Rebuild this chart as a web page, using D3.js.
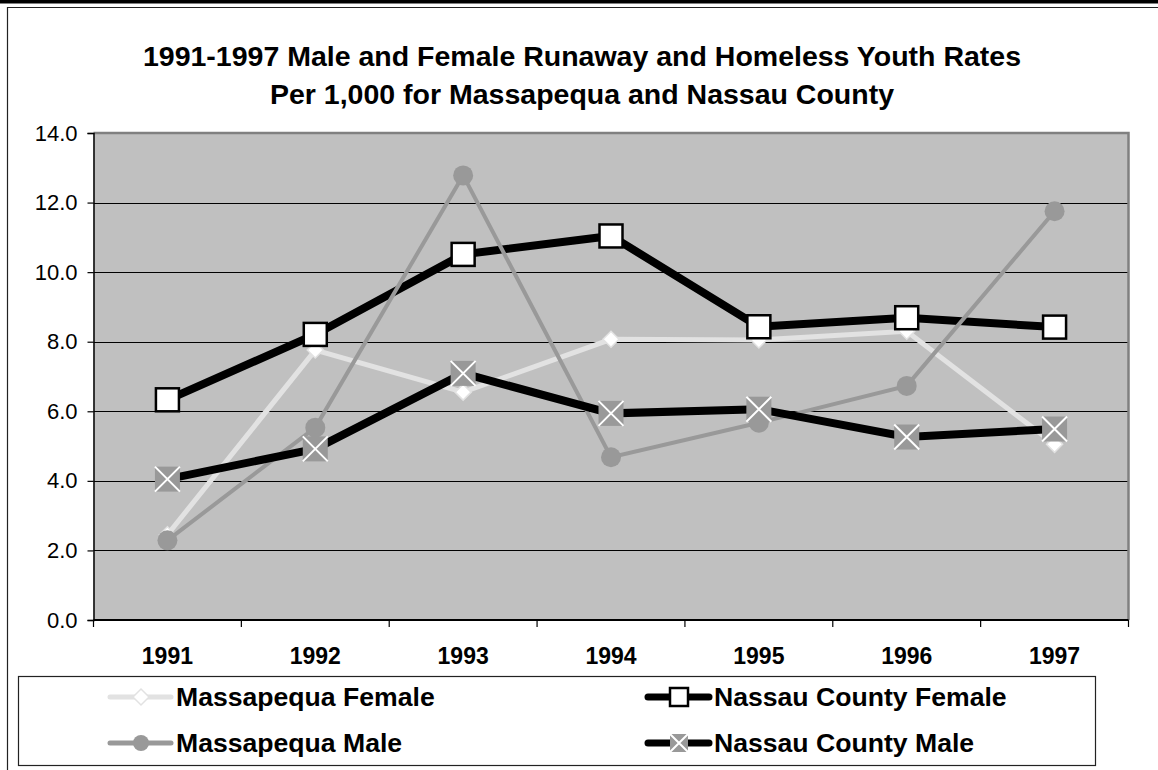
<!DOCTYPE html>
<html>
<head>
<meta charset="utf-8">
<script src="https://cdn.jsdelivr.net/npm/d3@7"></script>
<style>
  html, body { margin: 0; padding: 0; background: #fff; }
  svg { display: block; }
  text { font-family: "Liberation Sans", Arial, sans-serif; fill: #000; }
</style>
</head>
<body>
<svg id="chart" width="1158" height="770"></svg>
<script>
// Rates per 1,000 youth, 1991-1997
const years = ["1991", "1992", "1993", "1994", "1995", "1996", "1997"];
const massapequaFemale = [2.45, 7.76, 6.55, 8.07, 8.05, 8.3, 5.05];
const massapequaMale = [2.29, 5.53, 12.78, 4.68, 5.67, 6.73, 11.75];
const nassauFemale = [6.33, 8.21, 10.51, 11.04, 8.43, 8.69, 8.42];
const nassauMale = [4.05, 4.92, 7.09, 5.94, 6.06, 5.26, 5.49];
const yTicks = [0, 2, 4, 6, 8, 10, 12, 14];
const titleLines = [
  "1991-1997 Male and Female Runaway and Homeless Youth Rates",
  "Per 1,000 for Massapequa and Nassau County"
];

// series in drawing / legend order
const series = [
  { name: "Massapequa Female", values: massapequaFemale, line: "#e2e2e2", width: 5, marker: "diamond" },
  { name: "Nassau County Female", values: nassauFemale, line: "#000", width: 8, marker: "square" },
  { name: "Massapequa Male", values: massapequaMale, line: "#999", width: 4, marker: "circle" },
  { name: "Nassau County Male", values: nassauMale, line: "#000", width: 8, marker: "xsquare" }
];

const svg = d3.select("#chart");
const plot = { left: 93.5, right: 1128.5, top: 133, bottom: 620 };

// outer frame
svg.append("rect").attr("x", 0).attr("y", 0).attr("width", 1158).attr("height", 3.5).attr("fill", "#000");
svg.append("path").attr("d", "M7.5,770 V7.5 H1158").attr("fill", "none").attr("stroke", "#222").attr("stroke-width", 1.2);

// title
svg.append("g").selectAll("text").data(titleLines).join("text")
  .attr("x", 582).attr("y", (d, i) => 66 + i * 38)
  .attr("text-anchor", "middle")
  .style("font-size", "28.5px").style("font-weight", "bold")
  .text(d => d);

const x = d3.scaleBand().domain(years).range([plot.left, plot.right]);
const cx = d => x(d) + x.bandwidth() / 2;
const y = d3.scaleLinear().domain([0, 14]).range([plot.bottom, plot.top]);

// plot background
svg.append("rect")
  .attr("x", plot.left).attr("y", plot.top)
  .attr("width", plot.right - plot.left).attr("height", plot.bottom - plot.top)
  .attr("fill", "#c0c0c0");

// gridlines
svg.append("g").selectAll("line").data(yTicks.filter(v => v > 0 && v < 14)).join("line")
  .attr("x1", plot.left).attr("x2", plot.right)
  .attr("y1", d => Math.round(y(d)) + 0.5).attr("y2", d => Math.round(y(d)) + 0.5)
  .attr("stroke", "#000").attr("stroke-width", 1);

// top and right border
svg.append("path")
  .attr("d", `M${plot.left},${plot.top} H${plot.right} V${plot.bottom}`)
  .attr("fill", "none").attr("stroke", "#808080").attr("stroke-width", 2.5);

// y axis
const yAxis = svg.append("g").attr("transform", `translate(${plot.left},0)`)
  .call(d3.axisLeft(y).tickValues(yTicks).tickFormat(d3.format(".1f")).tickSize(6).tickPadding(10));
yAxis.select(".domain").attr("stroke", "#000").attr("stroke-width", 1.5);
yAxis.selectAll(".tick line").attr("stroke", "#000").attr("stroke-width", 1.2);
yAxis.selectAll("text").style("font-size", "22px").attr("font-family", null).attr("fill", "#000");

// x axis: boundary ticks between categories, labels centered
const xAxis = svg.append("g").attr("transform", `translate(0,${plot.bottom})`);
xAxis.append("line").attr("x1", plot.left).attr("x2", plot.right).attr("stroke", "#000").attr("stroke-width", 2);
xAxis.selectAll("line.tk").data(years.map(d => x(d)).concat([plot.right])).join("line")
  .attr("class", "tk")
  .attr("x1", d => d).attr("x2", d => d).attr("y1", 0).attr("y2", 7)
  .attr("stroke", "#000").attr("stroke-width", 1.2);
xAxis.selectAll("text").data(years).join("text")
  .attr("x", d => cx(d)).attr("y", 44)
  .attr("text-anchor", "middle")
  .style("font-size", "23px").style("font-weight", "bold")
  .text(d => d);

// marker drawing helper
function drawMarker(g, type, px, py, s) {
  if (type === "diamond") {
    g.append("path")
      .attr("d", `M${px},${py - s} L${px + s},${py} L${px},${py + s} L${px - s},${py} Z`)
      .attr("fill", "#fff").attr("stroke", "#e2e2e2").attr("stroke-width", 1.5);
  } else if (type === "circle") {
    g.append("circle").attr("cx", px).attr("cy", py).attr("r", s).attr("fill", "#999");
  } else if (type === "square") {
    g.append("rect").attr("x", px - s).attr("y", py - s).attr("width", 2 * s).attr("height", 2 * s)
      .attr("fill", "#fff").attr("stroke", "#000").attr("stroke-width", 2.5);
  } else if (type === "xsquare") {
    g.append("rect").attr("x", px - s).attr("y", py - s).attr("width", 2 * s).attr("height", 2 * s)
      .attr("fill", "#999");
    g.append("path")
      .attr("d", `M${px - s},${py - s} L${px + s},${py + s} M${px + s},${py - s} L${px - s},${py + s}`)
      .attr("stroke", "#fff").attr("stroke-width", 2);
  }
}
const markerSize = { diamond: 8, circle: 10, square: 11.5, xsquare: 12.5 };

const line = d3.line().x((d, i) => cx(years[i])).y(d => y(d));

series.forEach(s => {
  const g = svg.append("g");
  g.append("path").datum(s.values).attr("d", line)
    .attr("fill", "none").attr("stroke", s.line).attr("stroke-width", s.width)
    .attr("stroke-linejoin", "miter");
  s.values.forEach((v, i) => drawMarker(g, s.marker, cx(years[i]), y(v), markerSize[s.marker]));
});

// legend
const legend = svg.append("g");
legend.append("rect").attr("x", 18.5).attr("y", 676.5).attr("width", 1077).attr("height", 89)
  .attr("fill", "#fff").attr("stroke", "#222").attr("stroke-width", 1.2);
const legendSize = { diamond: 8, circle: 8, square: 9, xsquare: 9 };
const legendPos = [
  { x: 110, y: 697 }, { x: 648, y: 697 }, { x: 110, y: 743 }, { x: 648, y: 743 }
];
series.forEach((s, i) => {
  const p = legendPos[i];
  const g = legend.append("g");
  g.append("line").attr("x1", p.x).attr("x2", p.x + 61).attr("y1", p.y).attr("y2", p.y)
    .attr("stroke", s.line).attr("stroke-width", s.width === 8 ? 7 : 5).attr("stroke-linecap", "round");
  drawMarker(g, s.marker, p.x + 31, p.y, legendSize[s.marker]);
  g.append("text").attr("x", p.x + 66).attr("y", p.y + 9)
    .style("font-size", "26.6px").style("font-weight", "bold")
    .text(s.name);
});
</script>
</body>
</html>
